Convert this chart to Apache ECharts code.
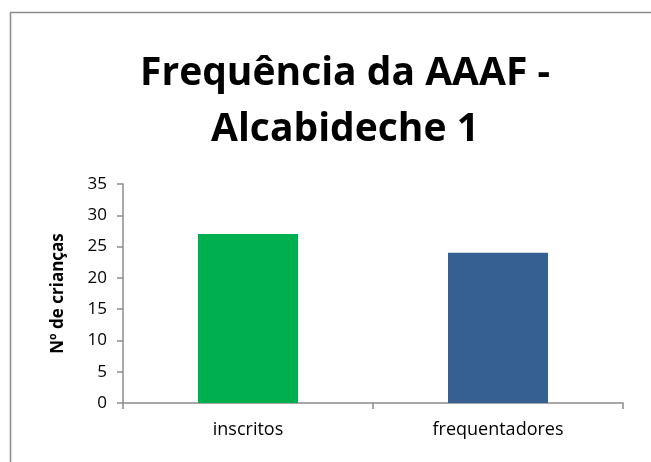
<!DOCTYPE html>
<html>
<head>
<meta charset="utf-8">
<script src="https://cdn.jsdelivr.net/npm/echarts@6/dist/echarts.min.js"></script>
<style>html,body{margin:0;padding:0;background:#fff}#c{width:651px;height:462px}</style>
</head>
<body>
<div id="c"></div>
<script>
var categories = ['inscritos', 'frequentadores'];
var values = [27, 24];
var barColors = ['#00B050', '#376092'];
var titleText = 'Frequência da AAAF -\nAlcabideche 1';
var yAxisName = 'Nº de crianças';

var chart = echarts.init(document.getElementById('c'), null, {renderer: 'canvas'});
chart.setOption({
  animation: false,
  backgroundColor: '#fff',
  graphic: [{
    type: 'rect',
    shape: {x: 10.5, y: 12.5, width: 700, height: 500},
    style: {fill: 'none', stroke: '#8c8c8c', lineWidth: 1.5},
    silent: true
  }],
  title: {
    text: titleText,
    left: 340,
    top: 41,
    textAlign: 'center',
    textStyle: {fontFamily: 'Open Sans', fontWeight: 'bold', fontSize: 39, lineHeight: 56, color: '#000'}
  },
  grid: {left: 123, right: 28, top: 184, bottom: 59},
  xAxis: {
    type: 'category',
    data: categories,
    axisLine: {lineStyle: {color: '#8c8c8c', width: 1.5}},
    axisTick: {show: true, alignWithLabel: false, length: 6, lineStyle: {color: '#8c8c8c', width: 1.5}},
    axisLabel: {fontFamily: 'Open Sans', fontSize: 18, color: '#000', margin: 18}
  },
  yAxis: {
    type: 'value',
    min: 0, max: 35, interval: 5,
    name: yAxisName,
    nameLocation: 'middle',
    nameGap: 56,
    nameTextStyle: {fontFamily: 'Open Sans', fontWeight: 'bold', fontSize: 17, color: '#000'},
    axisLine: {show: true, lineStyle: {color: '#8c8c8c', width: 1.5}},
    axisTick: {show: true, length: 6, lineStyle: {color: '#8c8c8c', width: 1.5}},
    splitLine: {show: false},
    axisLabel: {fontFamily: 'Open Sans', fontSize: 17, color: '#000', margin: 16}
  },
  series: [{
    type: 'bar',
    data: values.map(function (v, i) { return {value: v, itemStyle: {color: barColors[i]}}; }),
    barWidth: '40%'
  }]
});
</script>
</body>
</html>
